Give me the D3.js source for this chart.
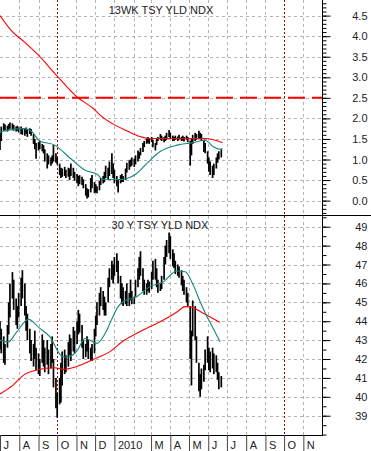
<!DOCTYPE html>
<html>
<head>
<meta charset="utf-8">
<script src="https://cdn.jsdelivr.net/npm/d3@7"></script>
<style>
  body { margin: 0; background: #fff; }
  svg { display: block; font-family: "Liberation Sans", Arial, sans-serif; }
</style>
</head>
<body>
<svg id="chart" width="371" height="451"></svg>
<script>
// 13 week T-bill yield index, one bar per two trading days from 1 Jul 2009
var billHigh = [1.64,1.80,1.88,1.85,1.82,1.86,1.90,1.88,1.84,1.80,1.82,1.78,1.80,1.76,1.74,1.78,1.72,1.76,1.74,1.62,
    1.50,1.40,1.42,1.45,1.38,1.35,1.25,1.15,1.10,1.05,1.10,1.35,1.15,1.05,0.90,0.80,0.78,0.82,0.75,0.80,
    0.78,0.90,0.80,0.70,0.65,0.60,0.62,0.58,0.52,0.40,0.30,0.28,0.55,0.62,0.45,0.40,0.35,0.48,0.55,0.60,
    0.70,0.85,0.80,0.95,1.15,0.90,0.75,0.60,0.50,0.62,0.65,0.60,0.78,0.92,0.98,1.00,1.05,1.02,1.10,1.22,
    1.18,1.28,1.40,1.45,1.52,1.55,1.50,1.55,1.48,1.40,1.52,1.55,1.62,1.58,1.55,1.58,1.65,1.72,1.65,1.58,
    1.55,1.58,1.56,1.60,1.55,1.58,1.55,1.58,1.55,1.45,1.50,1.60,1.65,1.62,1.70,1.65,1.62,1.48,1.40,1.20,
    1.05,0.95,0.85,0.90,1.05,1.15,1.20,1.25];
var billLow = [1.23,1.45,1.70,1.72,1.68,1.72,1.75,1.74,1.70,1.68,1.70,1.66,1.62,1.60,1.58,1.62,1.55,1.62,1.58,1.38,
    1.25,1.02,1.22,1.25,1.20,1.15,0.95,0.78,0.88,0.85,0.90,0.95,0.92,0.88,0.62,0.55,0.58,0.60,0.55,0.58,
    0.50,0.60,0.55,0.48,0.42,0.35,0.40,0.38,0.30,0.12,0.05,0.08,0.20,0.30,0.18,0.20,0.18,0.25,0.38,0.42,
    0.45,0.55,0.50,0.60,0.65,0.55,0.42,0.35,0.20,0.42,0.45,0.45,0.50,0.68,0.75,0.82,0.85,0.82,0.88,0.95,
    1.02,1.10,1.18,1.30,1.38,1.40,1.38,1.42,1.30,1.22,1.35,1.45,1.48,1.45,1.42,1.45,1.48,1.55,1.50,1.45,
    1.45,1.48,1.45,1.48,1.45,1.46,1.44,1.48,1.42,0.85,1.10,1.38,1.45,1.48,1.52,1.50,1.45,1.18,1.15,0.90,
    0.70,0.62,0.55,0.62,0.78,0.92,1.00,1.05];

// 30 year bond yield index, same dates
var bondHigh = [44.0,43.6,43.2,42.8,43.8,45.0,46.0,46.6,46.2,45.2,44.8,45.5,46.3,46.7,46.0,44.8,44.4,43.6,43.0,42.8,
    43.5,42.6,42.3,42.0,43.3,43.0,42.6,43.0,42.5,42.8,43.2,42.0,41.0,40.2,41.0,41.8,42.4,42.5,42.2,42.9,
    43.3,43.1,43.7,43.5,44.0,44.6,44.4,43.8,43.0,42.8,43.2,43.0,42.6,42.8,43.6,44.3,45.0,45.5,45.8,45.6,
    45.3,45.0,46.3,46.8,47.2,47.0,47.4,47.6,47.2,46.4,46.0,45.8,45.6,46.0,45.5,46.2,45.6,45.3,46.2,46.8,
    47.4,47.7,46.8,46.2,46.0,46.2,46.1,46.6,47.2,47.3,46.8,46.2,46.0,46.4,47.4,48.0,48.3,48.7,48.5,47.8,
    47.6,47.2,47.0,46.9,46.7,46.4,46.2,45.8,45.5,44.8,43.5,45.1,44.8,43.2,41.8,41.2,41.5,41.7,42.5,43.2,
    42.6,42.4,42.6,42.3,42.2,41.8,41.3,41.1];
var bondLow = [42.5,42.3,41.8,41.7,42.6,43.3,44.2,45.2,44.6,43.8,43.6,44.2,44.8,45.2,44.3,43.5,43.0,42.3,41.9,41.6,
    42.0,41.4,41.2,41.1,41.8,41.6,41.3,41.7,41.2,41.5,41.8,40.5,39.4,38.9,39.6,39.7,40.6,41.2,41.3,41.6,
    42.2,41.9,42.4,42.3,42.8,43.3,43.4,42.6,42.0,42.1,42.4,42.0,41.9,41.9,42.3,43.2,43.8,44.3,44.8,44.6,
    44.3,44.3,45.0,45.8,46.2,46.0,46.4,46.6,46.0,45.2,44.9,44.8,44.9,44.8,44.8,45.1,44.9,44.9,45.3,45.8,
    46.2,46.4,45.6,45.4,45.4,45.6,45.5,45.7,46.2,46.2,45.8,45.5,45.6,45.7,46.2,47.0,47.4,47.6,47.3,46.9,
    46.8,46.5,46.4,46.3,45.9,45.6,45.4,45.0,44.8,42.0,40.6,43.2,43.0,41.8,40.3,40.0,40.4,40.8,41.4,41.8,
    41.4,41.3,41.5,41.2,41.3,40.9,40.4,40.5];

// moving averages
var billSlow = [["2009-07-01",4.50],["2009-07-20",4.12],["2009-08-10",3.85],["2009-08-31",3.55],["2009-10-01",3.03],
    ["2009-11-02",2.52],["2009-11-28",2.24],["2009-12-09",2.08],["2009-12-30",1.86],["2010-01-21",1.70],
    ["2010-02-11",1.56],["2010-02-27",1.51],["2010-04-09",1.51],["2010-05-27",1.51],["2010-06-24",1.41]];
var billFast = [["2009-07-01",1.67],["2009-07-17",1.72],["2009-08-10",1.75],["2009-08-21",1.68],["2009-09-03",1.45],
    ["2009-09-27",1.35],["2009-10-22",1.03],["2009-11-15",0.74],["2009-12-04",0.64],["2009-12-14",0.52],
    ["2010-01-05",0.51],["2010-01-21",0.54],["2010-02-06",0.66],["2010-02-22",0.90],["2010-03-15",1.19],
    ["2010-04-12",1.35],["2010-05-08",1.41],["2010-05-27",1.47],["2010-06-09",1.31],["2010-06-20",1.25],["2010-06-24",1.27]];
var bondSlow = [["2009-07-01",40.15],["2009-07-22",40.62],["2009-08-10",41.20],["2009-08-29",41.42],["2009-09-27",41.54],
    ["2009-10-11",41.45],["2009-11-01",41.60],["2009-11-28",41.98],["2009-12-25",42.39],["2010-01-15",42.95],
    ["2010-02-06",43.36],["2010-02-27",43.71],["2010-03-21",44.06],["2010-04-11",44.47],["2010-04-25",44.77],
    ["2010-05-08",44.71],["2010-05-24",44.42],["2010-06-20",43.94]];
var bondFast = [["2009-07-01",43.00],["2009-07-14",42.90],["2009-07-28",43.44],["2009-08-16",44.10],["2009-09-03",43.62],
    ["2009-09-19",43.18],["2009-10-08",42.16],["2009-10-16",42.09],["2009-11-01",42.39],["2009-11-15",43.10],
    ["2009-12-04",42.83],["2009-12-20",43.53],["2009-12-25",43.90],["2010-01-07",44.77],["2010-01-15",45.03],
    ["2010-02-06",45.30],["2010-02-27",45.83],["2010-03-21",46.09],["2010-04-11",46.66],["2010-04-25",46.62],
    ["2010-05-08",45.90],["2010-05-19",45.03],["2010-05-30",44.24],["2010-06-09",43.62],["2010-06-20",42.92]];

var billTicks = [0, 0.5, 1, 1.5, 2, 2.5, 3, 3.5, 4, 4.5];
var bondTicks = [39, 40, 41, 42, 43, 44, 45, 46, 47, 48, 49];
var billLevel = 2.5;
var markerDates = ["2009-10-01", "2010-10-01"];
// February has no letter: the year label sits in its place
var monthLetters = ["J","","M","A","M","J","J","A","S","O","N","D"];

var svg = d3.select("#chart");
var parse = d3.timeParse("%Y-%m-%d");
var plotRight = 322, split = 215, bottom = 435;

var x = d3.scaleTime()
    .domain([new Date(2009, 6, 1), new Date(2010, 11, 1)])
    .range([0, plotRight]);
var yBill = d3.scaleLinear().domain([-0.35, 4.88]).range([split, 0]);
var yBond = d3.scaleLinear().domain([37.98, 49.62]).range([bottom, split]);

// trading days, every second one carries a bar
var tradingDays = d3.timeDay.range(new Date(2009, 6, 1), new Date(2010, 6, 1))
    .filter(function (d) { return d.getDay() % 6 !== 0; });
var barDates = tradingDays.filter(function (d, i) { return i % 2 === 0; });

var grid = svg.append("g").attr("id", "grid");

// month grid lines
var months = d3.timeMonth.range(new Date(2009, 7, 1), new Date(2010, 11, 1));
grid.selectAll("line.vgrid")
    .data(months.filter(function (d) { return d.getMonth() !== 9; }))
    .enter().append("line")
    .attr("x1", function (d) { return Math.round(x(d)) + 0.5; })
    .attr("x2", function (d) { return Math.round(x(d)) + 0.5; })
    .attr("y1", 0).attr("y2", bottom)
    .attr("stroke", "#b4b4b4")
    .attr("stroke-dasharray", "3,3");

grid.selectAll("line.hbill")
    .data(billTicks).enter().append("line")
    .attr("x1", 0).attr("x2", plotRight)
    .attr("y1", function (d) { return Math.round(yBill(d)) + 0.5; })
    .attr("y2", function (d) { return Math.round(yBill(d)) + 0.5; })
    .attr("stroke", "#b4b4b4")
    .attr("stroke-dasharray", "3,3");

grid.selectAll("line.hbond")
    .data(bondTicks).enter().append("line")
    .attr("x1", 0).attr("x2", plotRight)
    .attr("y1", function (d) { return Math.round(yBond(d)) + 0.5; })
    .attr("y2", function (d) { return Math.round(yBond(d)) + 0.5; })
    .attr("stroke", "#b4b4b4")
    .attr("stroke-dasharray", "3,3");

// october markers
svg.selectAll("line.marker")
    .data(markerDates).enter().append("line")
    .attr("x1", function (d) { return Math.round(x(parse(d))) + 0.5; })
    .attr("x2", function (d) { return Math.round(x(parse(d))) + 0.5; })
    .attr("y1", 0).attr("y2", bottom)
    .attr("stroke", "#a00000")
    .attr("stroke-dasharray", "2,2");

// 2.5 level
svg.append("line")
    .attr("x1", 0).attr("x2", plotRight)
    .attr("y1", yBill(billLevel)).attr("y2", yBill(billLevel))
    .attr("stroke", "#ff0000")
    .attr("stroke-width", 2)
    .attr("stroke-dasharray", "17,7");

function drawBars(hi, lo, y) {
    svg.append("g")
        .selectAll("line")
        .data(hi)
        .enter().append("line")
        .attr("x1", function (d, i) { return x(barDates[i]); })
        .attr("x2", function (d, i) { return x(barDates[i]); })
        .attr("y1", function (d) { return y(d); })
        .attr("y2", function (d, i) { return y(lo[i]); })
        .attr("stroke", "#000")
        .attr("stroke-width", 1.7);
}

function drawLine(points, y, color) {
    var line = d3.line()
        .x(function (d) { return x(parse(d[0])); })
        .y(function (d) { return y(d[1]); })
        .curve(d3.curveMonotoneX);
    svg.append("path")
        .attr("d", line(points))
        .attr("fill", "none")
        .attr("stroke", color)
        .attr("stroke-width", 1.1);
}

drawBars(billHigh, billLow, yBill);
drawBars(bondHigh, bondLow, yBond);
drawLine(billSlow, yBill, "#ff0000");
drawLine(billFast, yBill, "#12877c");
drawLine(bondSlow, yBond, "#ff0000");
drawLine(bondFast, yBond, "#12877c");

// frame
svg.append("line").attr("x1", 0).attr("x2", 371)
    .attr("y1", split + 0.5).attr("y2", split + 0.5).attr("stroke", "#000");
svg.append("line").attr("x1", 0).attr("x2", plotRight)
    .attr("y1", bottom + 0.5).attr("y2", bottom + 0.5).attr("stroke", "#000");

// right axes
function rightAxis(scale, major, minor, fmt) {
    var g = svg.append("g").attr("transform", "translate(" + (plotRight + 0.5) + ",0)");
    g.call(d3.axisRight(scale).tickValues(minor).tickSize(4).tickFormat(""));
    var m = svg.append("g").attr("transform", "translate(" + (plotRight + 0.5) + ",0)");
    m.call(d3.axisRight(scale).tickValues(major).tickSize(8).tickFormat(fmt));
    m.selectAll("text")
        .attr("x", 45)
        .attr("text-anchor", "end")
        .attr("fill", "#222")
        .style("font-size", "11px")
        .style("font-family", "'Liberation Sans', Arial, sans-serif");
    g.select(".domain").remove();
    m.select(".domain").remove();
}
rightAxis(yBill, billTicks, d3.range(-3, 49).map(function (d) { return d / 10; }), d3.format(".1f"));
rightAxis(yBond, bondTicks, d3.range(76, 100).map(function (d) { return d / 2; }), d3.format("d"));

svg.append("line").attr("x1", plotRight + 0.5).attr("x2", plotRight + 0.5)
    .attr("y1", 0).attr("y2", bottom + 1).attr("stroke", "#000");

// month axis
var xAxis = svg.append("g").attr("transform", "translate(0," + bottom + ")");
xAxis.call(d3.axisBottom(x)
    .tickValues(d3.timeMonth.range(new Date(2009, 6, 1), new Date(2010, 11, 1)))
    .tickSize(16)
    .tickFormat(function (d) {
        return d.getMonth() === 0 ? d3.timeFormat("%Y")(d) : monthLetters[d.getMonth()];
    }));
xAxis.select(".domain").remove();
xAxis.selectAll(".tick line").attr("stroke", "#444");
xAxis.selectAll(".tick")
    .filter(function (d) { return d.getMonth() === 1; })
    .select("line").remove();
xAxis.selectAll("text")
    .attr("x", 3)
    .attr("y", 13.5)
    .attr("dy", null)
    .attr("text-anchor", "start")
    .attr("fill", "#222")
    .style("font-size", "11px")
    .style("font-family", "'Liberation Sans', Arial, sans-serif");

// titles
svg.append("text").attr("x", 161).attr("y", 14)
    .attr("text-anchor", "middle").attr("fill", "#222")
    .style("font-size", "11px")
    .text("13WK TSY YLD NDX");
svg.append("text").attr("x", 160).attr("y", 229)
    .attr("text-anchor", "middle").attr("fill", "#222")
    .style("font-size", "11px")
    .text("30 Y TSY YLD NDX");
</script>
</body>
</html>
